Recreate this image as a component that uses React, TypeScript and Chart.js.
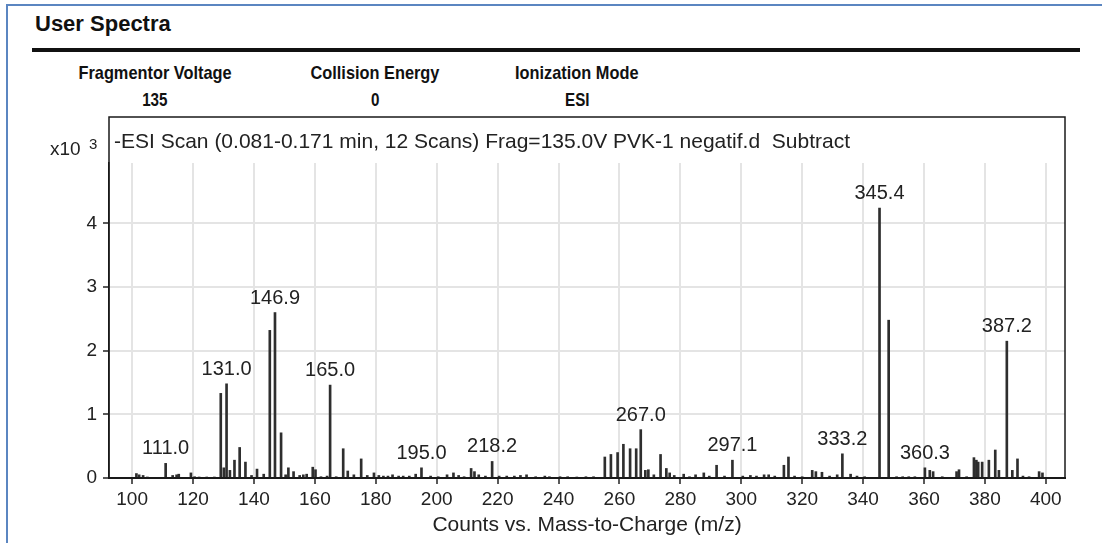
import React, { useEffect, useRef } from "react";
import { Chart, registerables } from "chart.js";

Chart.register(...registerables);

// Centroided peaks: m/z and abundance (counts x10^3)
const MZ = [
  101.4, 102.3, 103.6, 105.0, 111.0, 113.3, 114.6, 115.3, 119.3, 120.5, 122.0, 124.5, 127.0,
  129.1, 130.1, 131.0, 132.1, 133.6, 135.3, 137.2, 139.2, 141.0, 143.2, 145.2, 146.9, 148.9,
  150.4, 151.3, 153.0, 155.0, 156.2, 157.3, 159.3, 160.2, 162.0, 164.0, 165.0, 167.0, 169.3,
  170.8, 172.8, 175.2, 177.2, 179.4, 181.0, 182.5, 184.0, 185.5, 187.5, 189.0, 191.0, 193.1,
  195.0, 198.0, 200.5, 203.4, 205.5, 207.2, 209.0, 211.3, 212.4, 213.8, 216.0, 218.2, 220.5,
  223.0, 225.5, 227.5, 229.5, 232.5, 235.5, 237.0, 240.5, 243.0, 246.0, 249.0, 251.5, 255.2,
  257.2, 259.4, 261.3, 263.5, 265.5, 267.0, 268.5, 269.5, 271.3, 273.5, 275.4, 276.5, 278.0,
  281.1, 283.0, 285.0, 287.7, 289.5, 291.9, 294.5, 297.1, 300.5, 303.0, 305.0, 307.5, 309.0,
  311.0, 314.0, 315.5, 317.5, 320.0, 323.3, 324.5, 326.5, 329.0, 331.5, 333.2, 335.9, 338.0,
  340.5, 345.4, 348.4, 351.0, 353.0, 355.0, 357.0, 360.3, 361.9, 363.0, 366.0, 370.7, 371.5,
  374.0, 376.4, 377.2, 377.8, 379.1, 381.3, 383.4, 384.6, 387.2, 389.0, 390.7, 392.5, 394.5,
  397.8, 398.9,
];

const COUNTS = [
  0.07, 0.05, 0.04, 0.01, 0.23, 0.04, 0.05, 0.06, 0.08, 0.02, 0.01, 0.01, 0.01,
  1.33, 0.16, 1.48, 0.12, 0.28, 0.48, 0.25, 0.04, 0.14, 0.06, 2.32, 2.6, 0.71,
  0.05, 0.16, 0.1, 0.04, 0.05, 0.06, 0.17, 0.13, 0.02, 0.03, 1.46, 0.02, 0.46,
  0.11, 0.05, 0.3, 0.04, 0.08, 0.04, 0.03, 0.03, 0.05, 0.03, 0.03, 0.03, 0.06,
  0.16, 0.03, 0.02, 0.05, 0.08, 0.04, 0.02, 0.15, 0.1, 0.05, 0.03, 0.26, 0.03,
  0.03, 0.03, 0.04, 0.05, 0.02, 0.03, 0.02, 0.02, 0.02, 0.01, 0.02, 0.02, 0.33,
  0.37, 0.4, 0.53, 0.46, 0.46, 0.76, 0.12, 0.13, 0.05, 0.37, 0.15, 0.08, 0.04,
  0.06, 0.02, 0.05, 0.08, 0.03, 0.2, 0.03, 0.28, 0.03, 0.04, 0.03, 0.05, 0.05,
  0.03, 0.2, 0.33, 0.03, 0.02, 0.12, 0.1, 0.09, 0.03, 0.05, 0.38, 0.06, 0.03,
  0.02, 4.24, 2.48, 0.02, 0.02, 0.02, 0.02, 0.16, 0.12, 0.1, 0.02, 0.1, 0.13,
  0.02, 0.32, 0.28, 0.25, 0.25, 0.28, 0.44, 0.12, 2.15, 0.12, 0.3, 0.03, 0.02,
  0.1, 0.08,
];

// Peaks annotated with their m/z
const LABELED_MZ = [111.0, 131.0, 146.9, 165.0, 195.0, 218.2, 267.0, 297.1, 333.2, 345.4, 360.3, 387.2];

const X_TICKS = [100, 120, 140, 160, 180, 200, 220, 240, 260, 280, 300, 320, 340, 360, 380, 400];
const Y_TICKS = [0, 1, 2, 3, 4];

const PAGE_TITLE = "User Spectra";
const HEADER_FIELDS = ["Fragmentor Voltage", "Collision Energy", "Ionization Mode"];
const HEADER_VALUES = ["135", "0", "ESI"];
const SCAN_TITLE = "-ESI Scan (0.081-0.171 min, 12 Scans) Frag=135.0V PVK-1 negatif.d  Subtract";
const X_TITLE = "Counts vs. Mass-to-Charge (m/z)";
const Y_EXPONENT = "3";

const FONT = "'Liberation Sans', Arial, Helvetica, sans-serif";

// Draws the frame around plot + scan title, the x10^3 multiplier and the peak labels
const spectrumDecor = {
  id: "spectrumDecor",
  afterDraw(chart: any) {
    const { ctx, chartArea: a, scales } = chart;
    const frameTop = a.top - 46;
    ctx.save();
    ctx.strokeStyle = "#1a1a1a";
    ctx.lineWidth = 1.5;
    ctx.strokeRect(a.left, frameTop, a.right - a.left, a.bottom - frameTop);

    ctx.fillStyle = "#222";
    ctx.textAlign = "left";
    ctx.textBaseline = "alphabetic";
    ctx.font = `21px ${FONT}`;
    ctx.fillText(SCAN_TITLE, a.left + 5, a.top - 15);

    ctx.font = `19px ${FONT}`;
    ctx.fillText("x10", 50, a.top - 8);
    ctx.font = `15px ${FONT}`;
    ctx.fillText(Y_EXPONENT, 89, a.top - 14);

    ctx.font = `20px ${FONT}`;
    ctx.textAlign = "center";
    LABELED_MZ.forEach((mz) => {
      const i = MZ.indexOf(mz);
      if (i < 0) return;
      const x = scales.x.getPixelForValue(mz);
      const y = scales.y.getPixelForValue(COUNTS[i]);
      ctx.fillText(mz.toFixed(1), x, y - 9);
    });
    ctx.restore();
  },
};

function HeaderText({ cx, top, size, bold, squeeze, children }: any) {
  return (
    <div
      style={{
        position: "absolute",
        left: cx - 200,
        top,
        width: 400,
        textAlign: "center",
        fontFamily: FONT,
        fontSize: size,
        lineHeight: `${size}px`,
        fontWeight: bold ? 700 : 400,
        color: "#111",
        whiteSpace: "nowrap",
      }}
    >
      <span style={{ display: "inline-block", transform: `scaleX(${squeeze})`, transformOrigin: "center" }}>
        {children}
      </span>
    </div>
  );
}

export default function App() {
  const canvasRef = useRef<HTMLCanvasElement | null>(null);

  useEffect(() => {
    if (!canvasRef.current) return;
    const chart = new Chart(canvasRef.current, {
      type: "bar",
      data: {
        datasets: [
          {
            data: MZ.map((x, i) => ({ x, y: COUNTS[i] })),
            backgroundColor: "#2e2e2e",
            borderWidth: 0,
            barThickness: 2,
          },
        ],
      },
      options: {
        responsive: false,
        animation: false,
        layout: { padding: { left: 0, right: 37, top: 163, bottom: 0 } },
        plugins: { legend: { display: false }, tooltip: { enabled: false } },
        scales: {
          x: {
            type: "linear",
            min: 92.4,
            max: 406.3,
            offset: false,
            afterBuildTicks: (s: any) => {
              s.ticks = X_TICKS.map((value) => ({ value }));
            },
            afterFit: (s: any) => {
              s.height = 65;
            },
            grid: {
              offset: false,
              color: "#e4e4e4",
              lineWidth: 2,
              tickColor: "#222",
              tickLength: 6,
              tickWidth: 1.5,
            },
            border: { color: "#1a1a1a", width: 2 },
            ticks: {
              autoSkip: false,
              maxRotation: 0,
              padding: 4,
              color: "#222",
              font: { family: FONT, size: 19 },
            },
            title: {
              display: true,
              text: X_TITLE,
              color: "#222",
              font: { family: FONT, size: 21 },
              padding: { top: 0, bottom: 5 },
            },
          },
          y: {
            min: 0,
            max: 4.95,
            afterBuildTicks: (s: any) => {
              s.ticks = Y_TICKS.map((value) => ({ value }));
            },
            afterFit: (s: any) => {
              s.width = 109;
            },
            grid: {
              color: "#e4e4e4",
              lineWidth: 2,
              tickColor: "#222",
              tickLength: 6,
              tickWidth: 1.5,
            },
            border: { color: "#1a1a1a", width: 1.5 },
            ticks: {
              padding: 6,
              color: "#222",
              font: { family: FONT, size: 19 },
            },
          },
        },
      },
      plugins: [spectrumDecor],
    } as any);
    return () => chart.destroy();
  }, []);

  const centers = [155, 375, 577];

  return (
    <div
      style={{
        position: "fixed",
        left: 0,
        top: 0,
        width: 1102,
        height: 543,
        background: "#fff",
        overflow: "hidden",
      }}
    >
      {/* outer blue frame */}
      <div style={{ position: "absolute", left: 6, top: 4, width: 1096, height: 2, background: "#5b86c1" }} />
      <div style={{ position: "absolute", left: 6, top: 4, width: 2, height: 539, background: "#5b86c1" }} />

      <div
        style={{
          position: "absolute",
          left: 35,
          top: 11,
          fontFamily: FONT,
          fontSize: 22,
          lineHeight: "26px",
          fontWeight: 700,
          color: "#111",
          whiteSpace: "nowrap",
        }}
      >
        {PAGE_TITLE}
      </div>
      <div style={{ position: "absolute", left: 32, top: 48, width: 1048, height: 4, background: "#111" }} />

      {HEADER_FIELDS.map((f, i) => (
        <HeaderText key={f} cx={centers[i]} top={63} size={19} bold squeeze={0.86}>
          {f}
        </HeaderText>
      ))}
      {HEADER_VALUES.map((v, i) => (
        <HeaderText key={v + i} cx={centers[i]} top={90} size={19} bold squeeze={0.8}>
          {v}
        </HeaderText>
      ))}

      <canvas
        ref={canvasRef}
        width={1102}
        height={543}
        style={{ position: "absolute", left: 0, top: 0, width: 1102, height: 543 }}
      />
    </div>
  );
}
